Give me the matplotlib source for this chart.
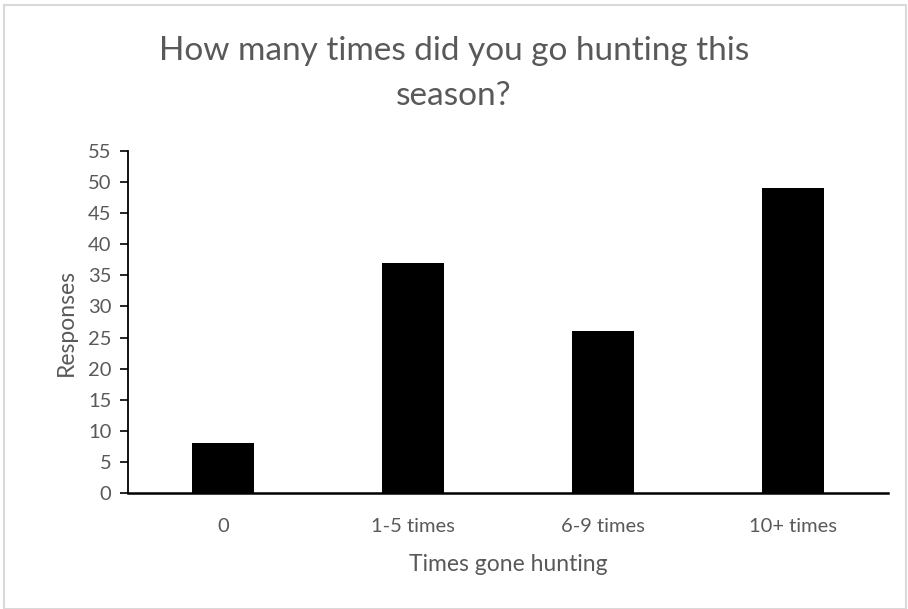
import matplotlib
matplotlib.use("Agg")
import matplotlib.pyplot as plt
from matplotlib.patches import Rectangle

# data
categories = ["0", "1-5 times", "6-9 times", "10+ times"]
responses = [8, 37, 26, 49]
y_ticks = list(range(0, 60, 5))

text_grey = "#595959"
plt.rcParams["font.family"] = ["Lato", "DejaVu Sans"]

fig = plt.figure(figsize=(9.08, 6.09), dpi=100)
# light frame around the chart area, like the Excel export
fig.patches.append(Rectangle((4 / 908, 0), 902 / 908, 604 / 609, transform=fig.transFigure,
                             fill=False, edgecolor="#d9d9d9", linewidth=1.5))

ax = fig.add_axes([128 / 908, 116 / 609, 760 / 908, 342 / 609])
x = range(len(categories))
ax.bar(x, responses, width=0.33, color="black")

ax.set_xlim(-0.5, len(categories) - 0.5)
ax.set_ylim(0, 55)
ax.set_yticks(y_ticks)
ax.set_xticks(list(x))
ax.set_xticklabels(categories)

ax.spines["top"].set_visible(False)
ax.spines["right"].set_visible(False)
ax.spines["left"].set_linewidth(1.3)
ax.spines["bottom"].set_linewidth(1.8)
ax.tick_params(axis="y", direction="out", length=6, width=1.2, colors="black",
               labelcolor=text_grey, labelsize=14.5, pad=6)
ax.tick_params(axis="x", length=0, labelcolor=text_grey, labelsize=14.5, pad=18)

ax.set_xlabel("Times gone hunting", color=text_grey, fontsize=16.5, labelpad=14)
ax.set_ylabel("Responses", color=text_grey, fontsize=16.5, labelpad=8)

fig.text(0.5, 0.879, "How many times did you go hunting this\nseason?", ha="center", va="center",
         color=text_grey, fontsize=24, linespacing=1.6)

fig.savefig("out.png", dpi=100, facecolor="white")
